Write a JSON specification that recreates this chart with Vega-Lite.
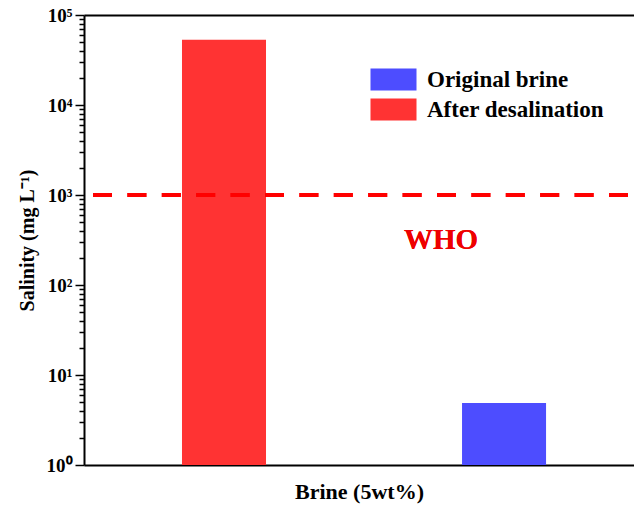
{
  "$schema": "https://vega.github.io/schema/vega-lite/v6.json",
  "autosize": "none",
  "width": 550,
  "height": 450,
  "padding": {"left": 84, "top": 15, "right": 0, "bottom": 45},
  "background": "white",
  "config": {
    "view": {"stroke": null},
    "font": "Liberation Serif"
  },
  "data": {
    "values": [
      {"series": "After desalination", "value": 53000},
      {"series": "Original brine", "value": 4.9}
    ]
  },
  "resolve": {"axis": {"x": "independent", "y": "independent"}},
  "layer": [
    {
      "mark": {"type": "bar"},
      "encoding": {
        "x": {
          "field": "series",
          "type": "nominal",
          "sort": ["After desalination", "Original brine"],
          "scale": {"paddingInner": 0.7, "paddingOuter": 0.332, "align": 0.527},
          "axis": {
            "orient": "bottom",
            "labels": false,
            "ticks": false,
            "domain": true,
            "domainColor": "black",
            "domainWidth": 2,
            "title": "Brine (5wt%)",
            "titleFont": "Liberation Serif",
            "titleFontWeight": "bold",
            "titleFontSize": 22,
            "titleColor": "black",
            "titlePadding": 16,
            "titleX": 275
          }
        },
        "y": {
          "field": "value",
          "type": "quantitative",
          "stack": null,
          "scale": {"type": "log", "domain": [1, 100000], "nice": false},
          "axis": {
            "orient": "left",
            "values": [1,2,3,4,5,6,7,8,9,10,20,30,40,50,60,70,80,90,100,200,300,400,500,600,700,800,900,1000,2000,3000,4000,5000,6000,7000,8000,9000,10000,20000,30000,40000,50000,60000,70000,80000,90000,100000],
            "labelExpr": "datum.value===1?'10⁰':datum.value===10?'10¹':datum.value===100?'10²':datum.value===1000?'10³':datum.value===10000?'10⁴':datum.value===100000?'10⁵':''",
            "labelOverlap": false,
            "labelFlush": false,
            "labelFont": "Liberation Serif",
            "labelFontWeight": "bold",
            "labelFontSize": 19,
            "labelColor": "black",
            "labelPadding": 3,
            "grid": false,
            "domain": true,
            "domainColor": "black",
            "domainWidth": 2,
            "ticks": true,
            "tickColor": "black",
            "tickOpacity": 1,
            "tickWidth": 1.5,
            "tickSize": {"condition": {"test": "datum.value===1||datum.value===10||datum.value===100||datum.value===1000||datum.value===10000||datum.value===100000", "value": 9}, "value": 5},
            "title": "Salinity (mg L⁻¹)",
            "titleFont": "Liberation Serif",
            "titleFontWeight": "bold",
            "titleFontSize": 20,
            "titleColor": "black",
            "titlePadding": 9
          }
        },
        "color": {
          "field": "series",
          "type": "nominal",
          "scale": {"domain": ["Original brine", "After desalination"], "range": ["#4d4dff", "#ff3333"]},
          "legend": {
            "title": null,
            "orient": "none",
            "legendX": 298,
            "legendY": 53,
            "symbolType": "M-2,-0.956H2V0.956H-2Z",
            "symbolSize": 529,
            "symbolStrokeWidth": 0,
            "symbolOpacity": 1,
            "labelFont": "Liberation Serif",
            "labelFontWeight": "bold",
            "labelFontSize": 23,
            "labelColor": "black",
            "labelOffset": 22,
            "labelLimit": 400,
            "rowPadding": 6
          }
        }
      }
    },
    {
      "mark": {"type": "rule", "color": "#ff0000", "strokeWidth": 4, "strokeDash": [19, 15.4], "strokeDashOffset": 28.4},
      "encoding": {
        "y": {"datum": 1000, "type": "quantitative", "axis": null}
      }
    },
    {
      "mark": {"type": "text", "text": "WHO", "color": "#ee0000", "font": "Liberation Serif", "fontWeight": "bold", "fontSize": 29, "dx": -63, "baseline": "middle", "align": "center"},
      "encoding": {
        "x": {
          "datum": "Original brine",
          "type": "nominal",
          "axis": {"orient": "top", "labels": false, "ticks": false, "domain": true, "domainColor": "black", "domainWidth": 2, "title": null}
        },
        "y": {"datum": 316, "type": "quantitative", "axis": null}
      }
    }
  ]
}
